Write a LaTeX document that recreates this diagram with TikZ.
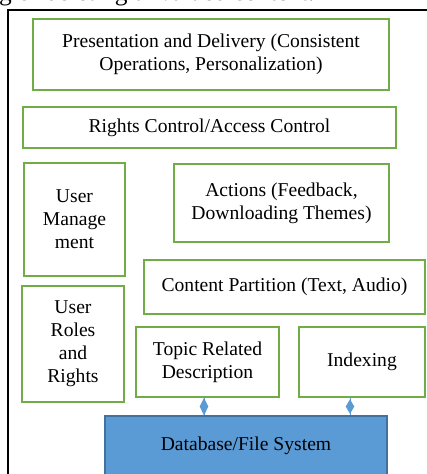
\documentclass[tikz,border=0pt]{standalone}
\usepackage{fontspec}
\setmainfont{Liberation Serif}
\usetikzlibrary{shapes.geometric}
\definecolor{boxgreen}{HTML}{70AD47}
\definecolor{dbfill}{HTML}{5B9BD5}
\definecolor{dbdraw}{HTML}{41719C}
\begin{document}
\begin{tikzpicture}[x=1pt,y=-1pt,
 txt/.style={font=\fontsize{19.6}{23}\selectfont},
 box/.style={txt, draw=boxgreen, line width=1.6pt, fill=white, align=center, inner sep=0pt},
 dbbox/.style={txt, draw=dbdraw, fill=dbfill, line width=1.4pt, align=center, inner sep=0pt},
 dmark/.style={diamond, fill=dbfill, draw=none, inner sep=0pt, minimum width=9pt, minimum height=18pt},
 conn/.style={draw=dbfill, line width=1pt},
 frame/.style={draw=black, line width=2pt}]
\useasboundingbox (0,0) rectangle (427,474);
\clip (0,0) rectangle (427,474);
\node[anchor=base west, inner sep=0pt, font=\fontsize{25.4}{30}\selectfont] (cap) at (-1,0.5) {g of deleting unvalued content.};
\draw[frame] (8,10) rectangle (445,500);
\node[box, minimum width=356pt, minimum height=71pt] (pres) at (211,54.5) {Presentation and Delivery (Consistent\\Operations, Personalization)};
\node[box, minimum width=373pt, minimum height=41pt] (rights) at (209.5,127.5) {Rights Control/Access Control};
\node[box, minimum width=101pt, minimum height=113pt] (um) at (74.5,219.5) {User\\Manage\\ment};
\node[box, minimum width=215pt, minimum height=78pt] (act) at (281.5,203) {Actions (Feedback,\\Downloading Themes)};
\node[box, minimum width=281pt, minimum height=54pt] (cp) at (284.5,287) {Content Partition (Text, Audio)};
\node[box, minimum width=102pt, minimum height=116pt] (ur) at (73,344) {User\\Roles\\and\\Rights};
\node[box, minimum width=143pt, minimum height=70pt] (topic) at (207.5,362) {Topic Related\\Description};
\node[box, minimum width=126pt, minimum height=70pt] (idx) at (362,362) {Indexing};
\node[dbbox, minimum width=282pt, minimum height=60pt] (db) at (246,446) {Database/File System};
\draw[conn] ([xshift=-3.5pt]topic.south) -- node[dmark]{} ([xshift=-3.5pt]topic.south |- db.north);
\draw[conn] ([xshift=-12pt]idx.south) -- node[dmark, minimum height=15pt]{} ([xshift=-12pt]idx.south |- db.north);
\end{tikzpicture}
\end{document}
